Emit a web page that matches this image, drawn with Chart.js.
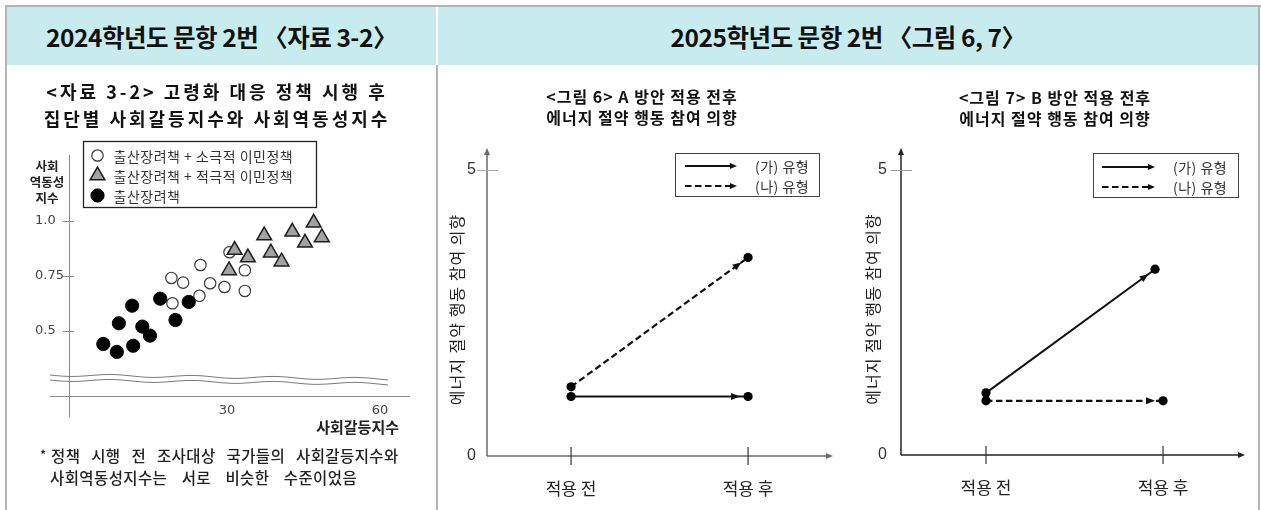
<!DOCTYPE html>
<html><head><meta charset="utf-8">
<script src="https://cdn.jsdelivr.net/npm/chart.js@4.4.1/dist/chart.umd.min.js"></script>
<style>
html,body{margin:0;padding:0;background:#fff;width:1261px;height:510px;overflow:hidden;font-family:"Noto Sans CJK KR","Noto Sans",sans-serif;}
.abs{position:absolute;}
#topb{left:5px;top:5px;width:1256px;height:2px;background:#b4b4b4}
#leftb{left:5px;top:5px;width:2px;height:505px;background:#b4b4b4}
#rightb{left:1258px;top:5px;width:2px;height:505px;background:#b4b4b4}
#midb{left:436px;top:65px;width:2px;height:445px;background:#b4b4b4}
.hdr{top:7px;height:58px;background:#c8ebed;display:flex;align-items:center;justify-content:center;font-weight:bold;font-size:24.5px;color:#111;letter-spacing:-0.5px}
#h1{left:7px;width:429px}
#h2{left:438px;width:820px}
.foot{font-size:15.5px;font-weight:500;color:#222;line-height:22px;white-space:nowrap;letter-spacing:0.4px}
</style></head>
<body>
<div id="topb" class="abs"></div><div id="leftb" class="abs"></div><div id="rightb" class="abs"></div><div id="midb" class="abs"></div>
<div id="h1" class="abs hdr">2024학년도 문항 2번 〈자료 3-2〉</div>
<div id="h2" class="abs hdr">2025학년도 문항 2번 〈그림 6, 7〉</div>
<canvas id="c1" class="abs" style="left:7px;top:65px" width="429" height="445"></canvas>
<canvas id="c2" class="abs" style="left:438px;top:65px" width="410" height="445"></canvas>
<canvas id="c3" class="abs" style="left:848px;top:65px" width="410" height="445"></canvas>
<div class="abs foot" style="left:40px;top:444px;font-size:13px">*</div>
<div class="abs foot" style="left:51px;top:444px;word-spacing:7px">정책 시행 전 조사대상 국가들의 사회갈등지수와</div>
<div class="abs foot" style="left:50px;top:466px;word-spacing:10.5px">사회역동성지수는 서로 비슷한 수준이었음</div>
<script>
// ---------- Data: 자료 3-2 ----------
const title1 = ['<자료 3-2> 고령화 대응 정책 시행 후', '집단별 사회갈등지수와 사회역동성지수'];
const legend1 = ['출산장려책 + 소극적 이민정책', '출산장려책 + 적극적 이민정책', '출산장려책'];
const xTitle1 = '사회갈등지수';
const yTitle1 = ['사회', '역동성', '지수'];
const openX  = [19.3, 19.1, 21.4, 24.8, 24.6, 26.7, 29.5, 30.5, 33.5, 33.5];
const openY  = [0.626, 0.741, 0.720, 0.800, 0.660, 0.717, 0.700, 0.858, 0.776, 0.682];
const triX   = [31.5, 30.4, 34.1, 37.3, 38.6, 40.7, 42.8, 45.3, 47.0, 48.6];
const triY   = [0.868, 0.775, 0.834, 0.934, 0.856, 0.815, 0.951, 0.901, 0.992, 0.925];
const solidX = [5.75, 8.4, 8.8, 11.6, 11.4, 13.4, 14.9, 16.9, 19.9, 22.5];
const solidY = [0.441, 0.405, 0.535, 0.433, 0.615, 0.520, 0.479, 0.647, 0.550, 0.632];
const xTicks1 = [30, 60];
const yTicks1 = [0.5, 0.75, 1.0];
const yTickLabels1 = ['0.5', '0.75', '1.0'];

// ---------- Data: 그림 6, 7 ----------
const categories = ['적용 전', '적용 후'];
const seriesNames = ['(가) 유형', '(나) 유형'];
const fig6Title = ['<그림 6> A 방안 적용 전후', '에너지 절약 행동 참여 의향'];
const fig7Title = ['<그림 7> B 방안 적용 전후', '에너지 절약 행동 참여 의향'];
const yTitleRight = '에너지 절약 행동 참여 의향';
const yTicksRight = [0, 5];
const fig6GaY = [1.04, 1.04];
const fig6NaY = [1.21, 3.47];
const fig7GaY = [1.09, 3.26];
const fig7NaY = [0.95, 0.95];
const catPos  = [0, 1];
const fig7GaX = [0, 0.955];

const KR = '"Noto Sans CJK KR", "Noto Sans", sans-serif';
function pts(xs, ys) { return xs.map((x, i) => ({x: x, y: ys[i]})); }

function arrowHead(ctx, tx, ty, ux, uy, len, hw) {
  ctx.beginPath();
  ctx.moveTo(tx, ty);
  ctx.lineTo(tx - ux * len - uy * hw, ty - uy * len + ux * hw);
  ctx.lineTo(tx - ux * len + uy * hw, ty - uy * len - ux * hw);
  ctx.closePath();
  ctx.fill();
}
function seg(ctx, x0, y0, x1, y1) { ctx.beginPath(); ctx.moveTo(x0, y0); ctx.lineTo(x1, y1); ctx.stroke(); }
function marker(ctx, style, r, x, y) {
  ctx.beginPath();
  if (style === 'triangle') {
    ctx.moveTo(x, y - r);
    ctx.lineTo(x + Math.sin(2 * Math.PI / 3) * r, y + r / 2);
    ctx.lineTo(x - Math.sin(2 * Math.PI / 3) * r, y + r / 2);
    ctx.closePath();
  } else { ctx.arc(x, y, r, 0, Math.PI * 2); }
  ctx.fill(); ctx.stroke();
}

const spacingPlugin = {
  id: 'spacing',
  beforeDraw(chart, args, o) { chart.ctx.letterSpacing = o.title || '0px'; },
  beforeDatasetsDraw(chart) { chart.ctx.letterSpacing = '0px'; }
};

// axes for scatter
const scatterAxes = {
  id: 'scatterAxes',
  beforeDatasetsDraw(chart, args, o) {
    const {ctx, chartArea: {left, right, top, bottom}, scales: {x, y}} = chart;
    ctx.save();
    ctx.strokeStyle = o.color; ctx.lineWidth = 1;
    seg(ctx, left + 0.5, top, left + 0.5, bottom + 21);
    seg(ctx, left - 19, bottom + 0.5, right + 11, bottom + 0.5);
    y.ticks.forEach(t => { const py = Math.round(y.getPixelForValue(t.value)) + 0.5; seg(ctx, left - 6, py, left + 5, py); });
    // wavy break
    ctx.strokeStyle = o.waveColor;
    const yb = y.getPixelForValue(o.breakValue);
    const x0 = left - 19, x1 = right - 11;
    [0, 5].forEach(k => {
      ctx.beginPath();
      for (let px = x0; px <= x1; px += 1) {
        const t = (px - x0) / (x1 - x0);
        const py = yb + k + t * 4 + Math.sin((px - x0) / 13) * 1.2;
        if (px === x0) ctx.moveTo(px, py); else ctx.lineTo(px, py);
      }
      ctx.stroke();
    });
    ctx.restore();
  },
  afterDraw(chart, args, o) {
    const {ctx, chartArea: {left, top}} = chart;
    ctx.save();
    ctx.fillStyle = '#222'; ctx.font = 'bold 12.5px ' + KR; ctx.textAlign = 'center'; ctx.textBaseline = 'middle';
    yTitle1.forEach((s, i) => ctx.fillText(s, left + o.yTitleDX, top + o.yTitleDY + i * 16));
    ctx.restore();
  }
};

const scatterLegend = {
  id: 'scatterLegend',
  afterDraw(chart, args, o) {
    const ctx = chart.ctx;
    ctx.save();
    ctx.fillStyle = '#fff'; ctx.strokeStyle = o.borderColor; ctx.lineWidth = 1.3;
    ctx.fillRect(o.x, o.y, o.w, o.h); ctx.strokeRect(o.x, o.y, o.w, o.h);
    chart.data.datasets.forEach((ds, i) => {
      const cy = o.y + o.rowTop + i * o.rowGap;
      ctx.fillStyle = ds.backgroundColor; ctx.strokeStyle = ds.borderColor; ctx.lineWidth = ds.borderWidth;
      marker(ctx, ds.pointStyle, ds.pointRadius, o.x + o.markerX, cy);
      ctx.letterSpacing = o.spacing;
      ctx.fillStyle = o.color; ctx.font = o.font; ctx.textAlign = 'left'; ctx.textBaseline = 'middle';
      ctx.fillText(ds.label, o.x + o.textX, cy + 1);
      ctx.letterSpacing = '0px';
    });
    ctx.restore();
  }
};

new Chart(document.getElementById('c1'), {
  type: 'scatter',
  data: { datasets: [
    {label: legend1[0], data: pts(openX, openY), pointStyle: 'circle', pointRadius: 5.7, backgroundColor: '#fff', borderColor: '#3a3a3a', borderWidth: 1.2, order: 2},
    {label: legend1[1], data: pts(triX, triY), pointStyle: 'triangle', pointRadius: 8.5, backgroundColor: '#a2a2a2', borderColor: '#1e1e1e', borderWidth: 1.5, order: 0},
    {label: legend1[2], data: pts(solidX, solidY), pointStyle: 'circle', pointRadius: 6.6, backgroundColor: '#000', borderColor: '#000', borderWidth: 1, order: 1}
  ]},
  options: {
    responsive: false, animation: false, events: [],
    layout: {padding: {left: 28, right: 37, top: 0, bottom: 64}},
    plugins: {
      legend: {display: false}, tooltip: {enabled: false},
      title: {display: true, text: title1, color: '#111', font: {family: KR, size: 18, weight: 'bold', lineHeight: 1.5}, padding: {top: 13.5, bottom: 22.5}},
      spacing: {title: '3px'},
      scatterAxes: {color: '#8a8a8a', waveColor: '#7a7a7a', breakValue: 0.3, yTitleDX: -22, yTitleDY: 11},
      scatterLegend: {x: 76.5, y: 76.5, w: 233, h: 66, rowTop: 14, rowGap: 20, markerX: 14, textX: 30, borderColor: '#222', color: '#333', font: '14px ' + KR, spacing: '0.5px'}
    },
    scales: {
      x: {type: 'linear', min: -0.98, max: 63.73,
        afterBuildTicks: s => { s.ticks = xTicks1.map(v => ({value: v})); },
        afterFit: s => { s.height = 50; },
        grid: {display: false, drawTicks: false, z: 1}, border: {display: false},
        ticks: {z: 1, padding: 7, color: '#444', font: {family: 'DejaVu Sans', size: 13}, callback: v => String(v)},
        title: {display: true, text: xTitle1, align: 'end', color: '#222', font: {family: KR, size: 15, weight: 'bold'}, padding: {top: 0, bottom: 10}}},
      y: {min: 0.2045, max: 1.3,
        afterBuildTicks: s => { s.ticks = yTicks1.map(v => ({value: v})); },
        afterFit: s => { s.width = 34; },
        grid: {display: false, drawTicks: false, z: 1}, border: {display: false},
        ticks: {z: 1, crossAlign: 'far', color: '#444', font: {family: 'DejaVu Sans', size: 13}, callback: (v, i) => yTickLabels1[i]}}
    }
  },
  plugins: [spacingPlugin, scatterAxes, scatterLegend]
});

// ---------- right charts ----------
const arrowAxes = {
  id: 'arrowAxes',
  beforeDatasetsDraw(chart, args, o) {
    const {ctx, chartArea: {left, right, top, bottom}, scales: {x, y}} = chart;
    ctx.save();
    ctx.strokeStyle = o.color; ctx.fillStyle = o.color; ctx.lineWidth = o.width;
    const yTop = top - o.topExt;
    seg(ctx, left, bottom, left, yTop + 5);
    arrowHead(ctx, left, yTop, 0, -1, 7, 3);
    seg(ctx, left, bottom, right - 5, bottom);
    arrowHead(ctx, right, bottom, 1, 0, 7, 3);
    ctx.strokeStyle = o.tickColor; ctx.lineWidth = 1;
    y.ticks.forEach(t => { if (t.value > 0) { const py = Math.round(y.getPixelForValue(t.value)) + 0.5; seg(ctx, left - 10, py, left + 11, py); } });
    ctx.strokeStyle = o.catTickColor; ctx.lineWidth = 1.2;
    x.ticks.forEach(t => { const px = x.getPixelForValue(t.value); seg(ctx, px, bottom - 9, px, bottom + 9); });
    ctx.restore();
  },
  afterDatasetsDraw(chart, args, o) {
    const ctx = chart.ctx;
    ctx.save();
    chart.data.datasets.forEach((ds, i) => {
      const m = chart.getDatasetMeta(i).data;
      const p0 = m[0], p1 = m[m.length - 1];
      const dx = p1.x - p0.x, dy = p1.y - p0.y, L = Math.hypot(dx, dy);
      const ux = dx / L, uy = dy / L;
      ctx.fillStyle = ds.borderColor;
      arrowHead(ctx, p1.x - ux * o.gap, p1.y - uy * o.gap, ux, uy, 9, 3.5);
    });
    ctx.restore();
  }
};

const lineLegend = {
  id: 'lineLegend',
  afterDraw(chart, args, o) {
    const ctx = chart.ctx;
    ctx.save();
    ctx.strokeStyle = o.borderColor; ctx.lineWidth = 1;
    ctx.strokeRect(o.x + 0.5, o.y + 0.5, o.w, o.h);
    chart.data.datasets.forEach((ds, i) => {
      const cy = o.y + o.rowTop + i * o.rowGap;
      ctx.strokeStyle = ds.borderColor; ctx.lineWidth = 2;
      ctx.setLineDash(ds.borderDash || []);
      seg(ctx, o.x + o.lineX0, cy, o.x + o.lineX1 - 5, cy);
      ctx.setLineDash([]);
      ctx.fillStyle = ds.borderColor;
      arrowHead(ctx, o.x + o.lineX1, cy, 1, 0, 7, 3);
      ctx.fillStyle = o.color; ctx.font = o.font; ctx.textAlign = 'left'; ctx.textBaseline = 'middle';
      ctx.letterSpacing = '0.5px';
      ctx.fillText(ds.label, o.x + o.textX, cy + 1);
      ctx.letterSpacing = '0px';
    });
    ctx.restore();
  }
};

function rightChart(id, title, gaX, gaY, naX, naY, c) {
  return new Chart(document.getElementById(id), {
    type: 'scatter',
    data: { datasets: [
      {label: seriesNames[0], data: pts(gaX, gaY), showLine: true, borderColor: '#111', backgroundColor: '#000', borderWidth: 2, pointRadius: 4.6, pointBorderWidth: 0, pointBackgroundColor: '#000'},
      {label: seriesNames[1], data: pts(naX, naY), showLine: true, borderColor: '#111', backgroundColor: '#000', borderWidth: 2.2, borderDash: [6.5, 3.5], pointRadius: 4.6, pointBorderWidth: 0, pointBackgroundColor: '#000'}
    ]},
    options: {
      responsive: false, animation: false, events: [],
      layout: {padding: {left: c.pl, right: c.pr, top: 0, bottom: c.pb}},
      plugins: {
        legend: {display: false}, tooltip: {enabled: false},
        title: {display: true, text: title, color: '#111', font: {family: KR, size: 16, weight: 'bold', lineHeight: 21 / 16}, padding: {top: c.tpt, bottom: c.tpb}},
        spacing: {title: '1px'},
        arrowAxes: {color: c.axisColor, width: 1.5, topExt: 15, tickColor: c.tickColor, catTickColor: '#333', gap: 8},
        lineLegend: c.legend
      },
      scales: {
        x: {type: 'linear', min: c.xMin, max: c.xMax,
          afterBuildTicks: s => { s.ticks = catPos.map(v => ({value: v})); },
          afterFit: s => { s.height = 45; },
          grid: {display: false, drawTicks: false}, border: {display: false},
          ticks: {z: 1, padding: 22, color: '#222', font: {family: KR, size: 17}, callback: (v, i) => categories[i]}},
        y: {min: 0, max: c.yMax,
          afterBuildTicks: s => { s.ticks = yTicksRight.map(v => ({value: v})); },
          afterFit: s => { s.width = c.yw; },
          grid: {display: false, drawTicks: false}, border: {display: false},
          ticks: {z: 1, padding: c.ytp, color: '#333', font: {family: 'Liberation Sans', size: 16}, callback: v => String(v)},
          title: {display: true, text: yTitleRight, color: '#222', font: {family: KR, size: 16}, padding: {top: c.ytitle, bottom: 0}}}
      }
    },
    plugins: [spacingPlugin, arrowAxes, lineLegend]
  });
}

rightChart('c2', fig6Title, catPos, fig6GaY, catPos, fig6NaY, {
  pl: 13, pr: 15, pb: 9, tpt: 21.5, tpb: 34.5, yw: 36, ytp: 11, ytitle: -3.6,
  xMin: -0.475, xMax: 1.48, yMax: 5.122, axisColor: '#6a6a6a', tickColor: '#aaa',
  legend: {x: 237, y: 88, w: 144, h: 43, rowTop: 13, rowGap: 20, lineX0: 10, lineX1: 62, textX: 80, borderColor: '#444', color: '#333', font: '14px ' + KR}
});
rightChart('c3', fig7Title, fig7GaX, fig7GaY, catPos, fig7NaY, {
  pl: 17, pr: 13, pb: 10, tpt: 22.5, tpb: 33.5, yw: 36, ytp: 14, ytitle: -1.6,
  xMin: -0.48, xMax: 1.463, yMax: 5.123, axisColor: '#222', tickColor: '#999',
  legend: {x: 245, y: 88, w: 145, h: 44, rowTop: 14, rowGap: 20, lineX0: 9, lineX1: 62, textX: 80, borderColor: '#444', color: '#333', font: '14px ' + KR}
});
</script>
</body></html>
